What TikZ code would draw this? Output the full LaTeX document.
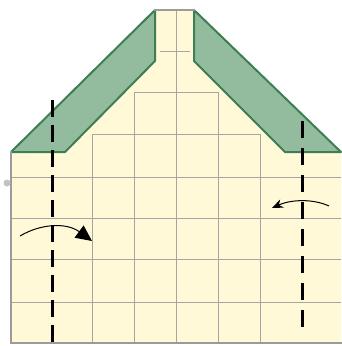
\documentclass[tikz,border=0pt]{standalone}
\usetikzlibrary{arrows.meta}
\definecolor{paper}{RGB}{255,249,215}
\definecolor{gridgray}{RGB}{165,165,165}
\definecolor{edgegray}{RGB}{155,155,155}
\definecolor{flapgreen}{RGB}{147,188,159}
\definecolor{flapedge}{RGB}{62,126,85}

\begin{document}
\begin{tikzpicture}[x=1pt, y=-1pt,
  grid/.style={draw=gridgray, line width=1pt},
  outline/.style={draw=edgegray, line width=2.5pt, line cap=rect},
  flap/.style={fill=flapgreen, draw=flapedge, line width=2pt, line join=round},
  fold/.style={line width=3pt, dash pattern=on 17pt off 8pt},
  turn/.style={line width=1pt},
]
  \useasboundingbox (0,0) rectangle (341,346);

  % paper
  \fill[paper] (11,152) -- (155,10) -- (194,10) -- (341,152)
    -- (341,343) -- (11,343) -- cycle;

  % grid
  \foreach \y in {177,218,259,302}
    \draw[grid] (11,\y) -- (341,\y);
  \draw[grid] (92,134) -- (260,134);
  \draw[grid] (134,92) -- (218,92);
  \draw[grid] (160,51) -- (190,51);
  \draw[grid] (176,10) -- (176,343);
  \foreach \x in {134,218}
    \draw[grid] (\x,92) -- (\x,343);
  \foreach \x in {92,260}
    \draw[grid] (\x,134) -- (\x,343);

  % flaps
  \draw[flap] (11,152) -- (155,10) -- (155,61) -- (65,152) -- cycle;
  \draw[flap] (194,10) -- (341,152) -- (285,152) -- (194,61) -- cycle;

  % edges
  \draw[outline] (11,152) -- (11,343) -- (341,343);
  \draw[outline] (155,10) -- (194,10);
  \fill[edgegray!60] (7,183) circle (3.5);

  % fold lines
  \coordinate (foldL top) at (52,100);
  \coordinate (foldL bot) at (52,343);
  \coordinate (foldR top) at (302,121);
  \coordinate (foldR bot) at (302,331);
  \draw[fold] (foldL top) -- (foldL bot);
  \draw[fold, dash pattern=on 17pt off 10pt] (foldR top) -- (foldR bot);

  % turn arrows
  \coordinate (turnL from) at (20,236);
  \coordinate (turnL to) at (92,241);
  \coordinate (turnR from) at (329,206);
  \coordinate (turnR to) at (272,208);
  \draw[turn, -{Triangle[length=16pt, width=15pt]}]
    (turnL from) .. controls (40,224) and (66,222) .. (turnL to);
  \draw[turn, -{Stealth[length=11pt, width=9pt]}]
    (turnR from) .. controls (314,199) and (292,199) .. (turnR to);
\end{tikzpicture}
\end{document}
